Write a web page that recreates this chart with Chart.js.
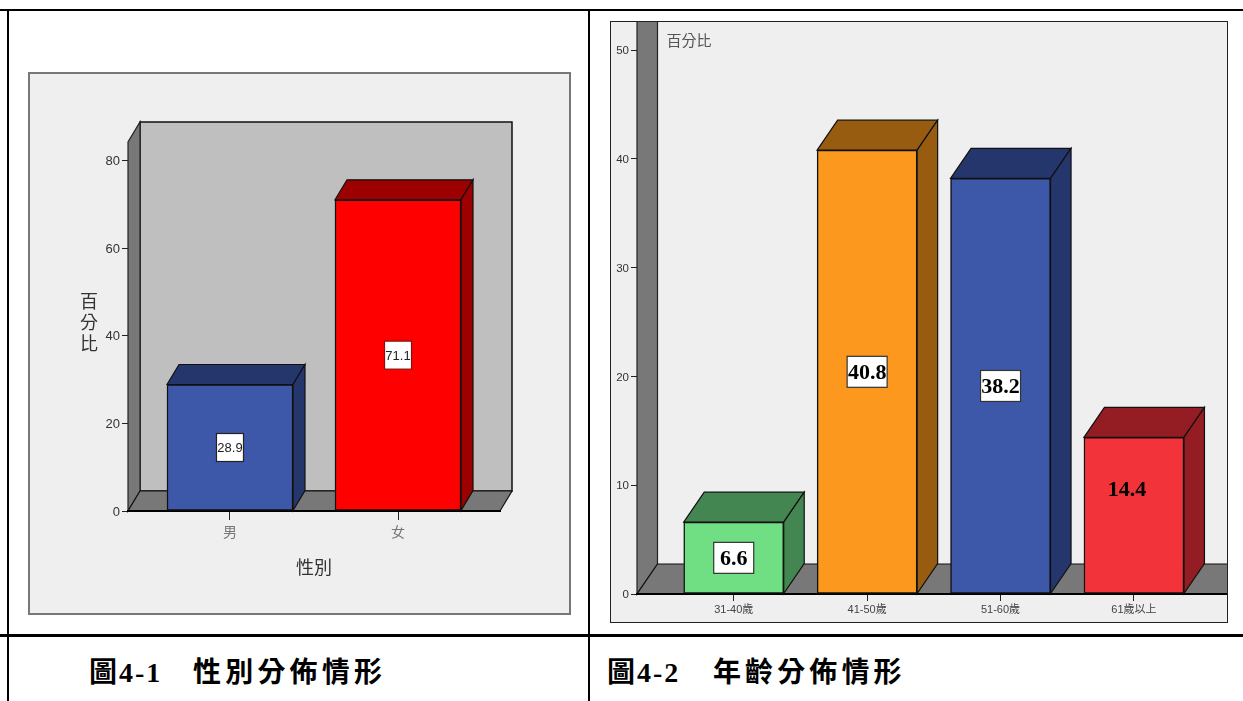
<!DOCTYPE html>
<html>
<head>
<meta charset="utf-8">
<script src="https://cdn.jsdelivr.net/npm/chart.js@4"></script>
<style>
html, body { margin: 0; padding: 0; background: #fff; overflow: hidden; }
body { width: 1243px; height: 701px; position: relative; }
canvas { position: absolute; background: #efefef; }
#genderChart { left: 28px; top: 72px; outline: 2px solid #777; outline-offset: -2px; }
#ageChart { left: 610px; top: 21px; outline: 1px solid #222; outline-offset: -1px; }
.rule { position: absolute; background: #000; }
.cap { position: absolute; top: 656px; font: bold 28px/34px "Liberation Serif", "Noto Sans CJK TC", serif; color: #000; white-space: nowrap; }
</style>
</head>
<body>
<div class="rule" style="left:0;top:9px;width:1243px;height:2px"></div>
<div class="rule" style="left:0;top:634px;width:1243px;height:3px"></div>
<div class="rule" style="left:7px;top:9px;width:2px;height:692px"></div>
<div class="rule" style="left:588px;top:9px;width:2px;height:692px"></div>

<canvas id="genderChart" width="543" height="543"></canvas>
<canvas id="ageChart" width="618" height="602"></canvas>

<div class="cap" style="left:89px;letter-spacing:2px">圖4-1</div>
<div class="cap" style="left:193px;letter-spacing:4.2px">性別分佈情形</div>
<div class="cap" style="left:607px;letter-spacing:2px">圖4-2</div>
<div class="cap" style="left:713px;letter-spacing:4.1px">年齡分佈情形</div>

<script>
const genderLabels = ['男', '女'];
const genderValues = [28.9, 71.1];
const genderTicks = [0, 20, 40, 60, 80];

const ageLabels = ['31-40歲', '41-50歲', '51-60歲', '61歲以上'];
const ageValues = [6.6, 40.8, 38.2, 14.4];
const ageTicks = [0, 10, 20, 30, 40, 50];

const genderFront = ['#3e58a9', '#ff0000'];
const genderShade = ['#24366b', '#9c0000'];
const ageFront = ['#70de82', '#fb981d', '#3e58a9', '#f23339'];
const ageShade = ['#448652', '#985c10', '#24366b', '#931d22'];

const SANS = '"Liberation Sans", "Noto Sans CJK TC", sans-serif';

function poly(ctx, pts, fill, stroke, lw) {
    ctx.beginPath();
    pts.forEach((p, i) => i ? ctx.lineTo(p[0], p[1]) : ctx.moveTo(p[0], p[1]));
    ctx.closePath();
    ctx.fillStyle = fill;
    ctx.fill();
    if (stroke) {
        ctx.strokeStyle = stroke;
        ctx.lineWidth = lw;
        ctx.stroke();
    }
}

// walls, floor, bar depth faces and the value boxes
const box3d = {
    id: 'box3d',
    beforeDraw(chart, args, o) {
        const { ctx, chartArea: a } = chart;
        const dx = o.dx, dy = o.dy;
        ctx.save();
        poly(ctx, [[a.left + dx, a.top + dy], [a.right + dx, a.top + dy], [a.right + dx, a.bottom + dy], [a.left + dx, a.bottom + dy]], o.backWall, o.backLine, 1.5);
        poly(ctx, [[a.left, a.bottom], [a.left, a.top], [a.left + dx, a.top + dy], [a.left + dx, a.bottom + dy]], '#787878', '#222', 1.2);
        poly(ctx, [[a.left, a.bottom], [a.right, a.bottom], [a.right + dx, a.bottom + dy], [a.left + dx, a.bottom + dy]], '#787878', '#111', 1.2);
        ctx.restore();
    },
    beforeDatasetsDraw(chart, args, o) {
        const ctx = chart.ctx;
        const dx = o.dx, dy = o.dy;
        ctx.save();
        chart.getDatasetMeta(0).data.forEach((bar, i) => {
            const l = bar.x - bar.width / 2, r = bar.x + bar.width / 2;
            poly(ctx, [[l, bar.y], [l + dx, bar.y + dy], [r + dx, bar.y + dy], [r, bar.y]], o.shade[i], '#111', 1.2);
            poly(ctx, [[r, bar.y], [r + dx, bar.y + dy], [r + dx, bar.base + dy], [r, bar.base]], o.shade[i], '#111', 1.2);
        });
        ctx.restore();
    },
    afterDatasetsDraw(chart, args, o) {
        const ctx = chart.ctx;
        const y = chart.scales.y;
        ctx.save();
        ctx.textAlign = 'center';
        ctx.textBaseline = 'middle';
        ctx.font = o.valueFont;
        chart.getDatasetMeta(0).data.forEach((bar, i) => {
            const value = chart.data.datasets[0].data[i].y;
            const plain = o.plainLabel === i;
            const cx = bar.x + (plain ? o.plainShift : 0);
            const cy = plain ? y.getPixelForValue(o.plainAt) : (bar.y + bar.base) / 2;
            if (!plain) {
                ctx.fillStyle = '#fff';
                ctx.fillRect(cx - o.boxW / 2, cy - o.boxH / 2, o.boxW, o.boxH);
                ctx.strokeStyle = o.boxLine[i];
                ctx.lineWidth = 1.2;
                ctx.strokeRect(cx - o.boxW / 2, cy - o.boxH / 2, o.boxW, o.boxH);
            }
            ctx.fillStyle = o.valueColor;
            ctx.fillText(value.toFixed(1), cx, cy + 1);
        });
        // axis caption that the scale title cannot draw (stacked or inside the wall)
        ctx.font = o.captionFont;
        ctx.fillStyle = o.captionColor;
        o.caption.forEach(c => ctx.fillText(c.text, c.x, c.y));
        ctx.restore();
    }
};

function yScale(ticks, max, width, font) {
    return {
        min: 0,
        max: max,
        afterFit: s => { s.width = width; s.paddingTop = 0; s.paddingBottom = 0; },
        afterBuildTicks: s => { s.ticks = ticks.map(v => ({ value: v })); },
        grid: { drawOnChartArea: false, color: '#222', tickLength: 6 },
        border: { display: false },
        ticks: { color: '#333', font: font, padding: 2, labelOffset: 1 }
    };
}

function xScale(labels, min, max, height, tickLength, labelPad, tickColor, font, title) {
    return {
        type: 'linear',
        offset: false,
        min: min,
        max: max,
        afterFit: s => { s.height = height; s.paddingLeft = 0; s.paddingRight = 0; },
        afterBuildTicks: s => { s.ticks = labels.map((_, i) => ({ value: i })); },
        grid: { offset: false, drawOnChartArea: false, color: '#222', tickLength: tickLength },
        border: { display: true, color: '#000', width: 2 },
        ticks: {
            color: tickColor,
            font: font,
            padding: labelPad,
            autoSkip: false,
            maxRotation: 0,
            callback: v => labels[v]
        },
        title: title
    };
}

function barData(values, front, thickness) {
    return {
        datasets: [{
            data: values.map((v, i) => ({ x: i, y: v })),
            backgroundColor: front,
            borderColor: '#111',
            borderWidth: 1.5,
            borderSkipped: false,
            barThickness: thickness
        }]
    };
}

new Chart(document.getElementById('genderChart'), {
    type: 'bar',
    data: barData(genderValues, genderFront, 126),
    plugins: [box3d],
    options: {
        responsive: false,
        animation: false,
        layout: { padding: { top: 70, right: 71 } },
        scales: {
            x: xScale(genderLabels, -0.607, 1.607, 104, 9, 5, '#777', { family: SANS, size: 14 }, {
                display: true,
                text: '性別',
                color: '#333',
                font: { family: SANS, size: 18 },
                padding: { bottom: 35 }
            }),
            y: yScale(genderTicks, 84.3, 100, { family: SANS, size: 13 })
        },
        plugins: {
            legend: { display: false },
            tooltip: { enabled: false },
            box3d: {
                dx: 12,
                dy: -20,
                backWall: '#bfbfbf',
                backLine: '#111',
                shade: genderShade,
                boxW: 27,
                boxH: 28,
                boxLine: ['#222', '#8a1010'],
                valueFont: '13px ' + SANS,
                valueColor: '#222',
                captionFont: '18px ' + SANS,
                captionColor: '#333',
                caption: [
                    { text: '百', x: 61, y: 231 },
                    { text: '分', x: 61, y: 252 },
                    { text: '比', x: 61, y: 273 }
                ]
            }
        }
    }
});

new Chart(document.getElementById('ageChart'), {
    type: 'bar',
    data: barData(ageValues, ageFront, 100),
    plugins: [box3d],
    options: {
        responsive: false,
        animation: false,
        layout: { padding: 0 },
        scales: {
            x: xScale(ageLabels, -0.725, 3.705, 29, 7, 2, '#444', { family: SANS, size: 11 }, { display: false }),
            y: yScale(ageTicks, 52.67, 27, { family: SANS, size: 11.5 })
        },
        plugins: {
            legend: { display: false },
            tooltip: { enabled: false },
            box3d: {
                dx: 20.5,
                dy: -30,
                backWall: '#efefef',
                backLine: null,
                shade: ageShade,
                boxW: 40,
                boxH: 31,
                boxLine: ['#333', '#333', '#333', '#333'],
                valueFont: 'bold 22px "Liberation Serif", serif',
                valueColor: '#000',
                plainLabel: 3,
                plainShift: -7,
                plainAt: 9.65,
                captionFont: '15px ' + SANS,
                captionColor: '#555',
                caption: [{ text: '百分比', x: 79, y: 21 }]
            }
        }
    }
});
</script>
</body>
</html>
